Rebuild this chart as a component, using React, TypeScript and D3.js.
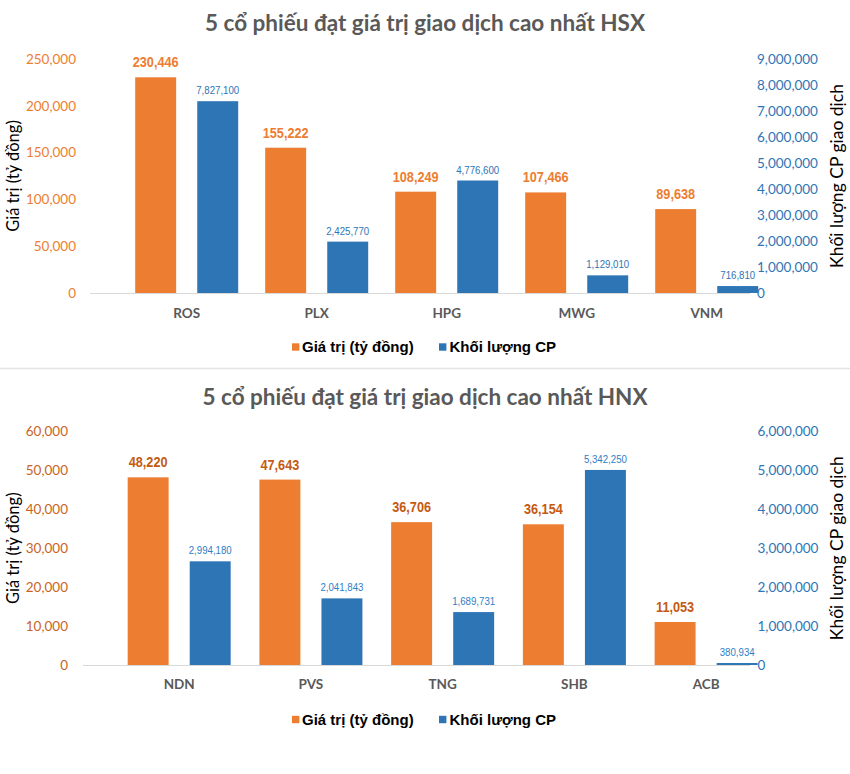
import React from "react";
import * as d3 from "d3";

// ---------- DATA ----------
const hsxCategories = ["ROS", "PLX", "HPG", "MWG", "VNM"];
const hsxValues = [230446, 155222, 108249, 107466, 89638];
const hsxVolumes = [7827100, 2425770, 4776600, 1129010, 716810];
const hsxLeftTicks = [0, 50000, 100000, 150000, 200000, 250000];
const hsxRightTicks = [0, 1000000, 2000000, 3000000, 4000000, 5000000, 6000000, 7000000, 8000000, 9000000];
// In the source the volume bars rise from ~450,000 rather than from the 0 tick
const hsxVolumeBarBase = 450000;

const hnxCategories = ["NDN", "PVS", "TNG", "SHB", "ACB"];
const hnxValues = [48220, 47643, 36706, 36154, 11053];
const hnxVolumes = [2994180, 2041843, 1689731, 5342250, 380934];
const hnxLeftTicks = [0, 10000, 20000, 30000, 40000, 50000, 60000];
const hnxRightTicks = [0, 1000000, 2000000, 3000000, 4000000, 5000000, 6000000];
const hnxVolumeBarBase = 330000;

const seriesNames = ["Giá trị (tỷ đồng)", "Khối lượng CP"];
const leftAxisTitle = "Giá trị (tỷ đồng)";
const rightAxisTitle = "Khối lượng CP giao dịch";

const ORANGE = "#ED7D31";
const BLUE = "#2E75B6";
const GRAY = "#595959";
const fmt = d3.format(",");
const ARIAL = "'Liberation Sans', Arial, sans-serif";
const NARROW_SCALE = 0.82;

type ChartProps = {
  title: string;
  categories: string[];
  values: number[];
  volumes: number[];
  leftTicks: number[];
  rightTicks: number[];
  volumeBase: number;
  titleY: number;
  plotTop: number;
  plotBottom: number;
  leftLabelX: number;
  rightLabelX: number;
  baseX0: number;
  baseX1: number;
  bandX0: number;
  bandX1: number;
  catY: number;
  legendY: number;
  valueColor: string;
  leftTickColor: string;
  volColor: string;
};

function NarrowText(props: { x: number; y: number; size: number; bold?: boolean; fill: string; children: string }) {
  return (
    <g transform={`translate(${props.x},${props.y}) scale(${NARROW_SCALE},1)`}>
      <text
        x={0}
        y={0}
        textAnchor="middle"
        fontFamily={ARIAL}
        fontWeight={props.bold ? "bold" : "normal"}
        fontSize={props.size}
        fill={props.fill}
      >
        {props.children}
      </text>
    </g>
  );
}

function Chart(p: ChartProps) {
  const leftMax = p.leftTicks[p.leftTicks.length - 1];
  const rightMax = p.rightTicks[p.rightTicks.length - 1];
  const yL = d3.scaleLinear().domain([0, leftMax]).range([p.plotBottom, p.plotTop]);
  const yR = d3.scaleLinear().domain([0, rightMax]).range([p.plotBottom, p.plotTop]);
  const yBar = d3
    .scaleLinear()
    .domain([p.volumeBase, rightMax + p.volumeBase])
    .range([p.plotBottom, p.plotTop]);
  const x0 = d3.scaleBand<string>().domain(p.categories).range([p.bandX0, p.bandX1]);
  const bw = x0.bandwidth();
  const x1 = d3
    .scaleBand<string>()
    .domain(["value", "volume"])
    .range([bw / 2 - 51.5, bw / 2 + 51.5])
    .paddingInner(0.34);
  const midY = (p.plotTop + p.plotBottom) / 2;

  return (
    <g>
      <text
        x={425}
        y={p.titleY}
        dy="0.35em"
        textAnchor="middle"
        fontFamily="Lato, sans-serif"
        fontWeight="bold"
        fontSize={22.5}
        fill={GRAY}
      >
        {p.title}
      </text>

      {p.leftTicks.map((t) => (
        <text
          key={"l" + t}
          x={p.leftLabelX}
          y={yL(t)}
          dy="0.35em"
          textAnchor="end"
          fontFamily="Lato, sans-serif"
          fontSize={13.5}
          fill={p.leftTickColor}
        >
          {fmt(t)}
        </text>
      ))}
      {p.rightTicks.map((t) => (
        <text
          key={"r" + t}
          x={p.rightLabelX}
          y={yR(t)}
          dy="0.35em"
          textAnchor="start"
          fontFamily="Lato, sans-serif"
          fontSize={13.5}
          fill={BLUE}
        >
          {fmt(t)}
        </text>
      ))}

      <text
        transform={`translate(13,${midY}) rotate(-90)`}
        dy="0.35em"
        textAnchor="middle"
        fontFamily="Lato, sans-serif"
        fontSize={16.5}
        fill="#000"
      >
        {leftAxisTitle}
      </text>
      <text
        transform={`translate(837,${midY}) rotate(-90)`}
        dy="0.35em"
        textAnchor="middle"
        fontFamily="Lato, sans-serif"
        fontSize={17.5}
        fill="#000"
      >
        {rightAxisTitle}
      </text>

      <line x1={p.baseX0} x2={p.baseX1} y1={p.plotBottom + 0.5} y2={p.plotBottom + 0.5} stroke="#d9d9d9" strokeWidth={1} />

      {p.categories.map((c, i) => {
        const gx = x0(c)!;
        const vx = gx + x1("value")!;
        const qx = gx + x1("volume")!;
        const vTop = yL(p.values[i]);
        const qTop = yBar(p.volumes[i]);
        return (
          <g key={c}>
            <rect x={vx} y={vTop} width={x1.bandwidth()} height={p.plotBottom - vTop} fill={ORANGE} />
            <rect x={qx} y={qTop} width={x1.bandwidth()} height={p.plotBottom - qTop} fill={BLUE} />
            <NarrowText x={vx + x1.bandwidth() / 2} y={vTop - 10} size={15.5} bold fill={p.valueColor}>
              {fmt(p.values[i])}
            </NarrowText>
            <NarrowText x={qx + x1.bandwidth() / 2} y={qTop - 7} size={11.8} fill={p.volColor}>
              {fmt(p.volumes[i])}
            </NarrowText>
            <text
              x={gx + bw / 2}
              y={p.catY}
              dy="0.35em"
              textAnchor="middle"
              fontFamily="Lato, sans-serif"
              fontWeight="bold"
              fontSize={13.5}
              fill={GRAY}
            >
              {c}
            </text>
          </g>
        );
      })}

      <g>
        <rect x={292} y={p.legendY - 3.7} width={7.4} height={7.4} fill={ORANGE} />
        <text x={302} y={p.legendY} dy="0.35em" fontFamily={ARIAL} fontWeight="bold" fontSize={15} fill="#000">
          {seriesNames[0]}
        </text>
        <rect x={439} y={p.legendY - 3.7} width={7.4} height={7.4} fill={BLUE} />
        <text x={449.5} y={p.legendY} dy="0.35em" fontFamily={ARIAL} fontWeight="bold" fontSize={15} fill="#000">
          {seriesNames[1]}
        </text>
      </g>
    </g>
  );
}

export default function App() {
  return (
    <svg width={850} height={774} style={{ position: "absolute", left: 0, top: 0, background: "#fff" }}>
      <rect x={0} y={0} width={850} height={774} fill="#fff" />
      <Chart
        title="5 cổ phiếu đạt giá trị giao dịch cao nhất HSX"
        categories={hsxCategories}
        values={hsxValues}
        volumes={hsxVolumes}
        leftTicks={hsxLeftTicks}
        rightTicks={hsxRightTicks}
        volumeBase={hsxVolumeBarBase}
        titleY={23}
        plotTop={59}
        plotBottom={293}
        leftLabelX={76}
        rightLabelX={757}
        baseX0={90}
        baseX1={750}
        bandX0={121.7}
        bandX1={771.7}
        catY={313}
        legendY={347}
        valueColor={ORANGE}
        leftTickColor={ORANGE}
        volColor={BLUE}
      />
      <line x1={0} x2={850} y1={368.5} y2={368.5} stroke="#e3e3e3" strokeWidth={1.5} />
      <Chart
        title="5 cổ phiếu đạt giá trị giao dịch cao nhất HNX"
        categories={hnxCategories}
        values={hnxValues}
        volumes={hnxVolumes}
        leftTicks={hnxLeftTicks}
        rightTicks={hnxRightTicks}
        volumeBase={hnxVolumeBarBase}
        titleY={397}
        plotTop={431.5}
        plotBottom={665}
        leftLabelX={68}
        rightLabelX={757.5}
        baseX0={83}
        baseX1={750}
        bandX0={113.3}
        bandX1={772}
        catY={684}
        legendY={719.5}
        valueColor="#C55A11"
        leftTickColor="#C9641F"
        volColor="#2E7FC8"
      />
    </svg>
  );
}
